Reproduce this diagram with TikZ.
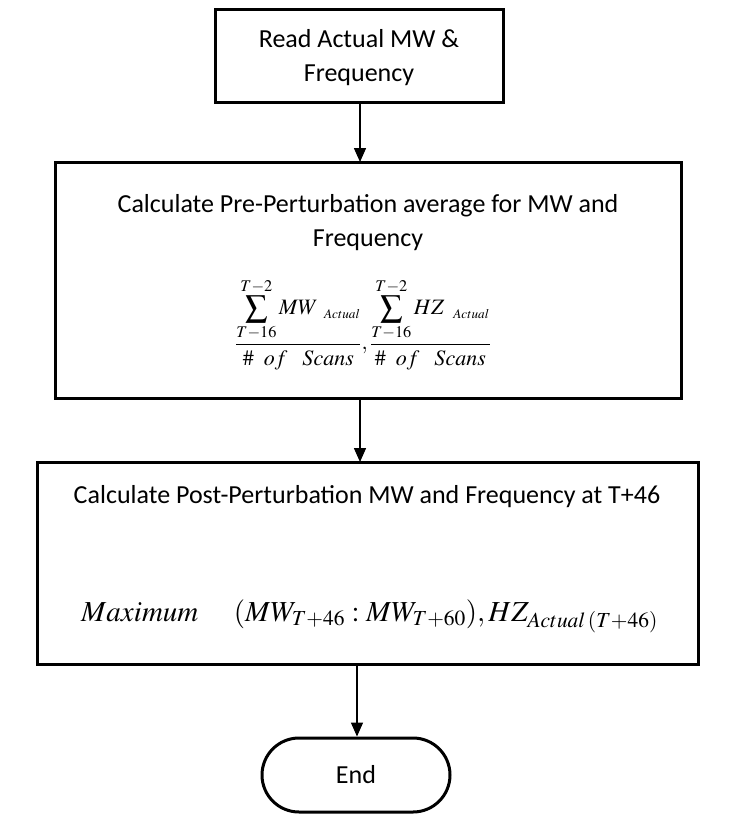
\documentclass[tikz,border=0pt]{standalone}
\usepackage{amsmath}
\usepackage{mathptmx}
\usepackage{fontspec}
\setmainfont{Carlito}
\usetikzlibrary{arrows.meta,shapes.misc}
\begin{document}
\begin{tikzpicture}[x=1pt,y=1pt,
  box/.style={draw,line width=3pt,inner sep=0pt},
  endbox/.style={draw,line width=3pt,rounded rectangle,inner sep=0pt},
  lbl/.style={font=\fontsize{26}{34}\selectfont,align=center,inner sep=0pt},
  arr/.style={line width=1.5pt,-{Triangle[length=14pt,width=12pt]}}]
\useasboundingbox (0,0) rectangle (734,-816);
\node[box,minimum width=288pt,minimum height=92pt] (b1) at (359,-56) {};
\node[lbl] (t1) at (359,-58) {Read Actual MW \&\\Frequency};
\node[box,minimum width=626pt,minimum height=236pt] (b2) at (368,-280) {};
\node[lbl] (t2) at (368,-223) {Calculate Pre-Perturbation average for MW and\\Frequency};
\node[inner sep=0pt] (f1) at (363,-324) {\fontsize{22}{26}\selectfont$\dfrac{\displaystyle\sum_{T-16}^{T-2} MW_{\ \ \scriptscriptstyle Actual}}{\#\ \ of\ \ \ Scans},\dfrac{\displaystyle\sum_{T-16}^{T-2} HZ_{\ \ \scriptscriptstyle Actual}}{\#\ \ of\ \ \ Scans}$};
\node[box,minimum width=661pt,minimum height=202pt] (b3) at (367.5,-563) {};
\node[lbl] (t3) at (367,-497) {Calculate Post-Perturbation MW and Frequency at T+46};
\node[inner sep=0pt,anchor=base west] (f2) at (81,-621) {\fontsize{29}{32}\selectfont$Maximum\quad\ (MW_{T+46}:MW_{T+60}),HZ_{\scriptstyle Actual\,(T+46)}$};
\node[endbox,minimum width=188pt,minimum height=74pt] (e) at (356,-775) {};
\node[lbl] (te) at (356,-775) {End};
\draw[arr] (b1.south -| 360,0) -- (360,-162) coordinate (c2);
\draw[arr] (360,-398) coordinate (c3) -- (360,-462) coordinate (c4);
\draw[arr] (357,-664) coordinate (c5) -- (e.north -| 357,0);
\end{tikzpicture}
\end{document}
